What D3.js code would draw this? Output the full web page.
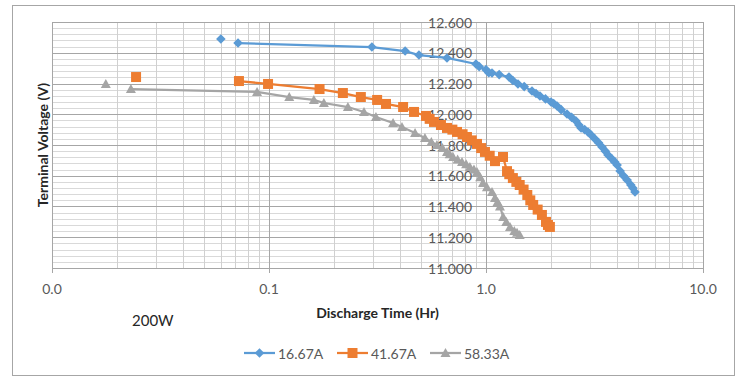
<!DOCTYPE html>
<html>
<head>
<meta charset="utf-8">
<script src="https://cdn.jsdelivr.net/npm/d3@7"></script>
<style>
  body { margin: 0; background: #fff; }
  text { font-family: Lato, "Open Sans", sans-serif; }
</style>
</head>
<body>
<div id="chart"></div>
<script>
// discharge curves at 200W; first point of each series stands alone (gap in sheet)
const time1 = [0.060, 0.072, 0.298, 0.424, 0.491, 0.661, 0.899, 0.93, 1.00, 1.03, 1.066, 1.15, 1.276, 1.33, 1.404, 1.50, 1.629, 1.70, 1.773, 1.88, 1.994, 2.05, 2.125, 2.22, 2.362, 2.48, 2.600, 2.68, 2.742, 2.85, 2.951, 3.05, 3.180, 3.30, 3.425, 3.55, 3.65, 3.80, 3.92, 4.02, 4.15, 4.30, 4.47, 4.65, 4.75, 4.86]
const volt1 = [12.489, 12.463, 12.437, 12.411, 12.385, 12.366, 12.327, 12.31, 12.29, 12.27, 12.268, 12.258, 12.242, 12.22, 12.197, 12.18, 12.151, 12.135, 12.119, 12.10, 12.080, 12.07, 12.054, 12.03, 12.002, 11.98, 11.956, 11.93, 11.911, 11.90, 11.885, 11.865, 11.839, 11.815, 11.787, 11.76, 11.735, 11.71, 11.69, 11.670, 11.631, 11.60, 11.572, 11.54, 11.52, 11.494]

const time2 = [0.0244, 0.0727, 0.099, 0.171, 0.219, 0.265, 0.315, 0.346, 0.415, 0.466, 0.529, 0.55, 0.576, 0.62, 0.661, 0.70, 0.735, 0.78, 0.817, 0.86, 0.909, 0.95, 0.989, 1.04, 1.10, 1.198, 1.25, 1.28, 1.33, 1.38, 1.43, 1.49, 1.55, 1.60, 1.65, 1.73, 1.81, 1.89, 1.93, 1.97]
const volt2 = [12.242, 12.216, 12.197, 12.164, 12.138, 12.112, 12.093, 12.067, 12.047, 12.015, 11.989, 11.97, 11.950, 11.93, 11.911, 11.90, 11.885, 11.87, 11.852, 11.83, 11.807, 11.78, 11.755, 11.73, 11.695, 11.722, 11.630, 11.61, 11.585, 11.56, 11.540, 11.51, 11.475, 11.44, 11.410, 11.38, 11.345, 11.30, 11.28, 11.267]

const time3 = [0.0177, 0.0231, 0.0881, 0.124, 0.161, 0.179, 0.231, 0.274, 0.311, 0.373, 0.410, 0.471, 0.523, 0.56, 0.594, 0.63, 0.661, 0.68, 0.705, 0.74, 0.775, 0.81, 0.843, 0.880, 0.909, 0.94, 0.969, 1.01, 1.066, 1.10, 1.13, 1.16, 1.20, 1.24, 1.29, 1.35, 1.39, 1.43]
const volt3 = [12.197, 12.164, 12.145, 12.112, 12.093, 12.073, 12.047, 12.015, 11.982, 11.943, 11.917, 11.878, 11.846, 11.82, 11.800, 11.78, 11.755, 11.74, 11.722, 11.705, 11.690, 11.675, 11.657, 11.640, 11.624, 11.59, 11.553, 11.525, 11.494, 11.455, 11.43, 11.40, 11.332, 11.30, 11.267, 11.24, 11.23, 11.215]

const seriesNames = ["16.67A", "41.67A", "58.33A"]
const colors = ["#5b9bd5", "#ed7d31", "#a5a5a5"]
const xTicks = [0.01, 0.1, 1, 10]
const xTickLabels = ["0.0", "0.1", "1.0", "10.0"]
const yTicks = [11.0, 11.2, 11.4, 11.6, 11.8, 12.0, 12.2, 12.4, 12.6]

const W = 739, H = 377
const margin = {top: 22, right: 36, bottom: 109, left: 52}
const width = W - margin.left - margin.right
const height = H - margin.top - margin.bottom

const svg = d3.select("#chart").append("svg")
    .attr("width", W)
    .attr("height", H)

// outer chart border
svg.append("rect")
    .attr("x", 12.5).attr("y", 5.5)
    .attr("width", 722).attr("height", 370)
    .attr("fill", "none").attr("stroke", "#a6a6a6")

const g = svg.append("g")
    .attr("transform", `translate(${margin.left}, ${margin.top})`)

const x = d3.scaleLog().domain([0.01, 10]).range([0, width])
const y = d3.scaleLinear().domain([11, 12.6]).range([height, 0])

// minor grid
const minorX = []
for (let dec = 0.01; dec < 10; dec *= 10)
    for (let k = 2; k <= 9; k++) minorX.push(dec * k)
const minorY = d3.range(0, 41).map(i => 11 + i * 0.04)

g.append("g").selectAll("line")
    .data(minorY)
    .enter().append("line")
        .attr("x1", 0).attr("x2", width)
        .attr("y1", d => Math.round(y(d)) + 0.5)
        .attr("y2", d => Math.round(y(d)) + 0.5)
        .attr("stroke", "#d9d9d9")
g.append("g").selectAll("line")
    .data(minorX)
    .enter().append("line")
        .attr("y1", 0).attr("y2", height)
        .attr("x1", d => Math.round(x(d)) + 0.5)
        .attr("x2", d => Math.round(x(d)) + 0.5)
        .attr("stroke", "#d0d0d0")

// major grid
g.append("g").selectAll("line")
    .data(yTicks)
    .enter().append("line")
        .attr("x1", 0).attr("x2", width)
        .attr("y1", d => Math.round(y(d)) + 0.5)
        .attr("y2", d => Math.round(y(d)) + 0.5)
        .attr("stroke", "#a6a6a6")
g.append("g").selectAll("line")
    .data(xTicks)
    .enter().append("line")
        .attr("y1", 0).attr("y2", height + 5)
        .attr("x1", d => Math.round(x(d)) + 0.5)
        .attr("x2", d => Math.round(x(d)) + 0.5)
        .attr("stroke", "#a6a6a6")

// X labels
g.append("g").selectAll("text")
    .data(xTicks)
    .enter().append("text")
        .attr("x", d => x(d))
        .attr("y", height + 20)
        .attr("text-anchor", "middle")
        .attr("dominant-baseline", "central")
        .attr("font-size", 14)
        .attr("fill", "#595959")
        .text((d, i) => xTickLabels[i])

// Y labels, axis crosses at 1.0
g.append("g").selectAll("text")
    .data(yTicks)
    .enter().append("text")
        .attr("x", x(1) - 14)
        .attr("y", d => y(d))
        .attr("text-anchor", "end")
        .attr("dominant-baseline", "central")
        .attr("font-size", 14)
        .attr("fill", "#595959")
        .text(d => d3.format(".3f")(d))

// markers
const markers = [
    s => `M0,${-s}L${s},0L0,${s}L${-s},0Z`,
    s => `M${-s},${-s}H${s}V${s}H${-s}Z`,
    s => `M0,${-s}L${s},${s * 0.8}L${-s},${s * 0.8}Z`
]
const markerSize = [4.8, 5, 5]

const all = [[time1, volt1], [time2, volt2], [time3, volt3]]
const line = d3.line().x(d => x(d[0])).y(d => y(d[1]))

all.forEach(([t, v], si) => {
    const pts = t.map((d, i) => [d, v[i]])
    g.append("path")
        .datum(pts.slice(1))
        .attr("d", line)
        .attr("fill", "none")
        .attr("stroke", colors[si])
        .attr("stroke-width", 2.25)
    g.append("g").selectAll("path")
        .data(pts)
        .enter().append("path")
            .attr("transform", d => `translate(${x(d[0])},${y(d[1])})`)
            .attr("d", markers[si](markerSize[si]))
            .attr("fill", colors[si])
})

// titles
svg.append("text")
    .attr("transform", `translate(42, ${margin.top + height / 2}) rotate(-90)`)
    .attr("text-anchor", "middle")
    .attr("dominant-baseline", "central")
    .attr("font-size", 14)
    .attr("font-weight", "bold")
    .attr("fill", "#262626")
    .text("Terminal Voltage (V)")

svg.append("text")
    .attr("x", margin.left + width / 2)
    .attr("y", 312)
    .attr("text-anchor", "middle")
    .attr("dominant-baseline", "central")
    .attr("font-size", 14)
    .attr("font-weight", "bold")
    .attr("fill", "#262626")
    .text("Discharge Time (Hr)")

svg.append("text")
    .attr("x", 132)
    .attr("y", 320)
    .attr("dominant-baseline", "central")
    .attr("font-size", 15)
    .attr("fill", "#262626")
    .text("200W")

// legend
const legendX = [244, 337, 430]
const legend = svg.append("g")
seriesNames.forEach((name, i) => {
    const lg = legend.append("g").attr("transform", `translate(${legendX[i]}, 353)`)
    lg.append("line")
        .attr("x1", 0).attr("x2", 31)
        .attr("stroke", colors[i]).attr("stroke-width", 2.25)
    lg.append("path")
        .attr("transform", "translate(15.5,0)")
        .attr("d", markers[i](markerSize[i]))
        .attr("fill", colors[i])
    lg.append("text")
        .attr("x", 34)
        .attr("dominant-baseline", "central")
        .attr("font-size", 14)
        .attr("fill", "#595959")
        .text(name)
})
</script>
</body>
</html>
